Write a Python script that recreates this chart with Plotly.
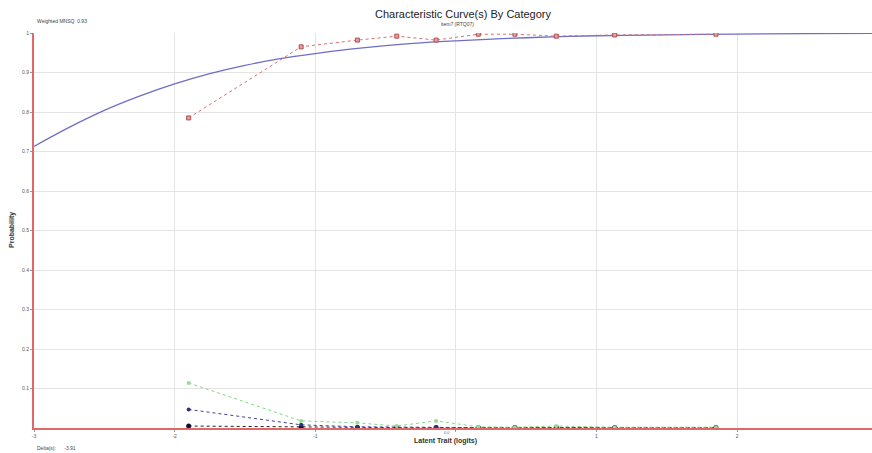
import plotly.graph_objects as go

# Model (expected) curve
model_x = [-3.0, -2.75, -2.5, -2.25, -2.0, -1.75, -1.5, -1.25, -1.0, -0.75, -0.5, -0.25,
           0.0, 0.5, 1.0, 1.5, 2.0, 2.5, 2.96]
model_p = [0.713, 0.761, 0.804, 0.840, 0.871, 0.897, 0.918, 0.935, 0.948, 0.959, 0.968,
           0.975, 0.980, 0.988, 0.993, 0.9955, 0.9973, 0.9984, 0.999]

# Observed category proportions
obs_x = [-1.90, -1.10, -0.70, -0.42, -0.14, 0.16, 0.42, 0.715, 1.13, 1.85]
cat_red = [0.785, 0.965, 0.982, 0.992, 0.982, 0.997, 0.997, 0.992, 0.995, 0.997]
cat_green = [0.114, 0.018, 0.013, 0.005, 0.018, 0.003, 0.002, 0.005, 0.002, 0.002]
cat_navy = [0.047, 0.008, 0.003, 0.002, 0.002, 0.001, 0.001, 0.001, 0.001, 0.001]
cat_black = [0.005, 0.002, 0.001, 0.001, 0.001, 0.001, 0.001, 0.001, 0.001, 0.001]

x_ticks = [-3, -2, -1, 0, 1, 2]
x_tick_labels = ["-3", "-2", "-1", "", "1", "2"]
y_ticks = [0.1, 0.2, 0.3, 0.4, 0.5, 0.6, 0.7, 0.8, 0.9, 1]

FONT = "Liberation Sans, Arial, sans-serif"

fig = go.Figure()
fig.add_trace(go.Scatter(x=model_x, y=model_p, mode="lines", line=dict(color="#6e6ec8", width=1.3, shape="spline"),
                         showlegend=False, hoverinfo="skip"))
fig.add_trace(go.Scatter(x=obs_x, y=cat_black, mode="lines+markers",
                         line=dict(color="#202020", width=1, dash="dot"),
                         marker=dict(symbol="circle", size=5, color="#101030"), showlegend=False))
fig.add_trace(go.Scatter(x=obs_x, y=cat_navy, mode="lines+markers",
                         line=dict(color="#4040a0", width=1, dash="dot"),
                         marker=dict(symbol="circle", size=4, color="#303080"), showlegend=False))
fig.add_trace(go.Scatter(x=obs_x, y=cat_green, mode="lines+markers",
                         line=dict(color="#80d880", width=1, dash="dot"),
                         marker=dict(symbol="circle", size=4, color="#90e090"), showlegend=False))
fig.add_trace(go.Scatter(x=obs_x, y=cat_red, mode="lines+markers",
                         line=dict(color="#d87070", width=1, dash="dot"),
                         marker=dict(symbol="square", size=4, color="#e0a0a0",
                                     line=dict(color="#b05050", width=1)), showlegend=False))

fig.update_layout(
    width=872, height=453,
    margin=dict(l=34, r=0, t=33, b=25, autoexpand=False),
    paper_bgcolor="white", plot_bgcolor="white",
    font=dict(family=FONT, color="#333333"),
    title=dict(text="Characteristic Curve(s) By Category", x=463/872, xanchor="center",
               y=1 - 14/453, yanchor="middle", font=dict(size=11, color="#222222")),
)
fig.update_xaxes(range=[-3, 2.96], tickvals=x_ticks, ticktext=x_tick_labels,
                 showgrid=True, gridcolor="#e4e4e4", gridwidth=1, zeroline=False,
                 showline=True, linecolor="#e06868", linewidth=2, automargin=False,
                 ticks="outside", ticklen=2, tickcolor="#999999",
                 tickfont=dict(size=5, color="#555555"))
fig.update_yaxes(range=[0, 1], tickvals=y_ticks, ticktext=[str(v) for v in y_ticks],
                 showgrid=True, gridcolor="#e4e4e4", gridwidth=1, zeroline=False,
                 showline=True, linecolor="#e06868", linewidth=2, automargin=False,
                 ticks="outside", ticklen=2, tickcolor="#999999",
                 tickfont=dict(size=5, color="#555555"))

def px_x(px):
    return (px - 34) / 838

def px_y(py):
    return (428 - py) / 395

fig.add_annotation(text="<b>Latent Trait (logits)</b>", xref="paper", yref="paper", x=px_x(445), y=px_y(441),
                   showarrow=False, font=dict(size=7, color="#333333"), xanchor="center", yanchor="middle")
fig.add_annotation(text="<b>Probability</b>", xref="paper", yref="paper", x=px_x(12), y=px_y(230),
                   showarrow=False, font=dict(size=7, color="#333333"), textangle=-90,
                   xanchor="center", yanchor="middle")
fig.add_annotation(text="item7 (RTQ07)", xref="paper", yref="paper", x=px_x(457), y=px_y(24),
                   showarrow=False, font=dict(size=5, color="#444444"), xanchor="center", yanchor="middle")
fig.add_annotation(text="Weighted MNSQ  0.93", xref="paper", yref="paper", x=px_x(35), y=px_y(21),
                   showarrow=False, font=dict(size=5, color="#444444"), xanchor="left", yanchor="middle")
fig.add_annotation(text="Delta(s):      -3.91", xref="paper", yref="paper", x=px_x(35), y=px_y(448),
                   showarrow=False, font=dict(size=5, color="#444444"), xanchor="left", yanchor="middle")
fig.add_annotation(text="0.0", xref="paper", yref="paper", x=px_x(447), y=px_y(432),
                   showarrow=False, font=dict(size=4, color="#666666"), xanchor="center", yanchor="middle")

fig.write_html("out.html", config={"displayModeBar": False},
               post_script="document.body.style.margin='0';")
